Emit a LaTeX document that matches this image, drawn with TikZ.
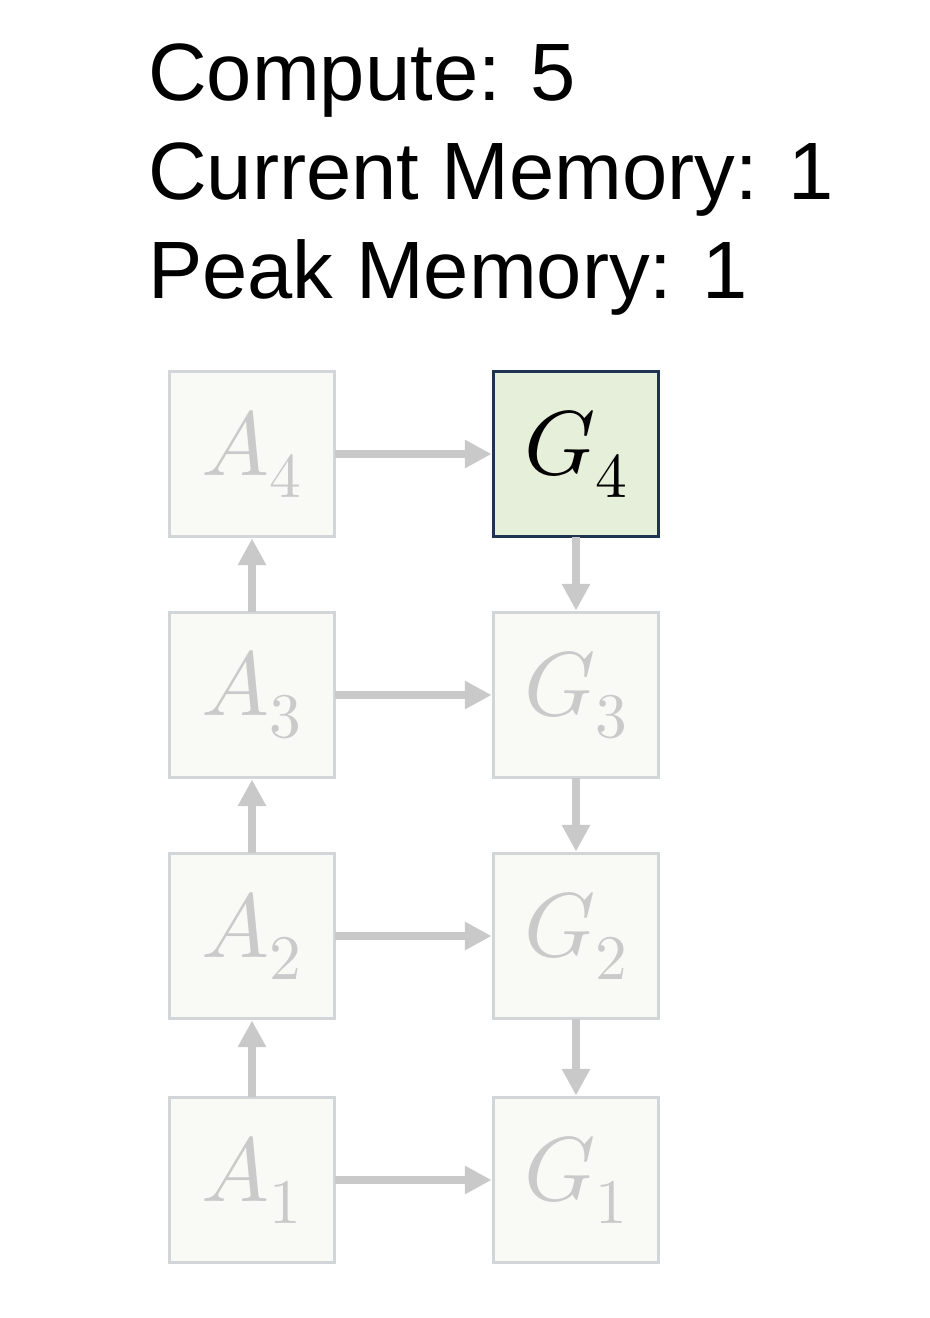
\documentclass[tikz,border=0pt]{standalone}
\usepackage{fontspec}
\usepackage{unicode-math}
\setmainfont{Liberation Sans}
\usetikzlibrary{arrows.meta}
\definecolor{boxline}{HTML}{D2D6D9}
\definecolor{boxfill}{HTML}{F9FAF6}
\definecolor{arr}{HTML}{C9C9C9}
\definecolor{lbl}{HTML}{CACACA}
\definecolor{gfill}{HTML}{E6EFD9}
\definecolor{gline}{HTML}{1F3450}
\tikzset{
  cell/.style={draw=boxline, fill=boxfill, line width=2.6pt, minimum size=124pt, inner sep=0pt, text=lbl,
     font=\fontsize{68}{68}\selectfont},
  active/.style={cell, draw=gline, fill=gfill, text=black},
  conn/.style={draw=arr, line width=6.5pt, -{Triangle[length=20pt,width=20pt]}, shorten <=-1pt},
  title/.style={anchor=base west, inner sep=0pt, font=\fontsize{61}{75}\selectfont}
}
\begin{document}
\begin{tikzpicture}[x=0.75pt,y=-0.75pt]
\useasboundingbox (0,0) rectangle (930,1318);
\node[title] (t1) at (148,100) {Compute: 5};
\node[title] (t2) at (148,199) {Current Memory: 1};
\node[title] (t3) at (148,298) {Peak Memory: 1};
\node[cell] (A4) at (252,454) {$A_4$};
\node[cell] (A3) at (252,695) {$A_3$};
\node[cell] (A2) at (252,936) {$A_2$};
\node[cell] (A1) at (252,1180) {$A_1$};
\node[active] (G4) at (576,454) {$G_4$};
\node[cell] (G3) at (576,695) {$G_3$};
\node[cell] (G2) at (576,936) {$G_2$};
\node[cell] (G1) at (576,1180) {$G_1$};
\draw[conn] (A1.north) -- (A2.south);
\draw[conn] (A2.north) -- (A3.south);
\draw[conn] (A3.north) -- (A4.south);
\draw[conn] (A4.east) -- (G4.west);
\draw[conn] (A3.east) -- (G3.west);
\draw[conn] (A2.east) -- (G2.west);
\draw[conn] (A1.east) -- (G1.west);
\draw[conn] (G4.south) -- (G3.north);
\draw[conn] (G3.south) -- (G2.north);
\draw[conn] (G2.south) -- (G1.north);
\end{tikzpicture}
\end{document}
